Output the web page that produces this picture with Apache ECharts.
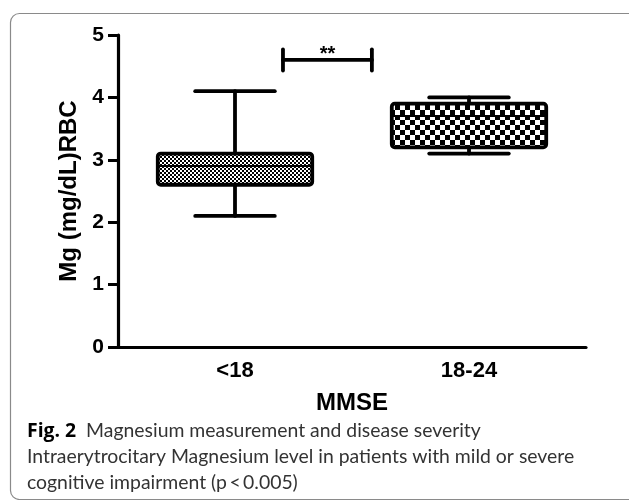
<!DOCTYPE html>
<html>
<head>
<meta charset="utf-8">
<script src="https://cdn.jsdelivr.net/npm/echarts@6/dist/echarts.min.js"></script>
<style>
  html, body { margin: 0; padding: 0; background: #fff; }
  #main { width: 629px; height: 500px; }
</style>
</head>
<body>
<div id="main"></div>
<script>
  // data
  var categories = ['<18', '18-24'];
  var lowVals = [2.1, 3.1];
  var q1Vals = [2.6, 3.2];
  var medVals = [2.9, 3.7];
  var q3Vals = [3.1, 3.9];
  var highVals = [4.1, 4.0];
  var checkSizes = [2, 5];          // checker square size of each box fill

  // significance bracket, in category units from the first category
  var bracketSpan = [0.205, 0.585];
  var bracketValue = 4.6;
  var bracketCap = 0.17;
  var bracketText = '**';

  var captionBold = 'Fig. 2';
  var captionLines = [
    'Magnesium measurement and disease severity',
    'Intraerytrocitary Magnesium level in patients with mild or severe',
    'cognitive impairment (p\u2009<\u20090.005)'
  ];

  function checker(size) {
    var c = document.createElement('canvas');
    c.width = size * 2;
    c.height = size * 2;
    var ctx = c.getContext('2d');
    ctx.fillStyle = '#fff';
    ctx.fillRect(0, 0, c.width, c.height);
    ctx.fillStyle = '#000';
    ctx.fillRect(0, 0, size, size);
    ctx.fillRect(size, size, size, size);
    return c;
  }
  var patterns = checkSizes.map(function (s) {
    return { image: checker(s), repeat: 'repeat' };
  });

  var boxData = categories.map(function (c, i) {
    return [i, lowVals[i], q1Vals[i], medVals[i], q3Vals[i], highVals[i]];
  });

  var axisFont = '"Liberation Sans", Arial, sans-serif';
  var lw = 3.8;

  function renderBox(params, api) {
    var i = api.value(0);
    var bw = api.size([1, 0])[0];
    var pLow = api.coord([i, api.value(1)]);
    var pQ1 = api.coord([i, api.value(2)]);
    var pMed = api.coord([i, api.value(3)]);
    var pQ3 = api.coord([i, api.value(4)]);
    var pHigh = api.coord([i, api.value(5)]);
    var cx = pLow[0];
    var half = bw * 0.33;
    var capHalf = bw * 0.17;
    var st = { stroke: '#000', lineWidth: lw, lineCap: 'round' };
    return {
      type: 'group',
      children: [
        { type: 'line', shape: { x1: cx, y1: pHigh[1], x2: cx, y2: pQ3[1] }, style: st },
        { type: 'line', shape: { x1: cx, y1: pQ1[1], x2: cx, y2: pLow[1] }, style: st },
        { type: 'line', shape: { x1: cx - capHalf, y1: pHigh[1], x2: cx + capHalf, y2: pHigh[1] }, style: st },
        { type: 'line', shape: { x1: cx - capHalf, y1: pLow[1], x2: cx + capHalf, y2: pLow[1] }, style: st },
        {
          type: 'rect',
          shape: { x: cx - half, y: pQ3[1], width: half * 2, height: pQ1[1] - pQ3[1], r: 3 },
          style: { fill: patterns[i], stroke: '#000', lineWidth: lw }
        },
        { type: 'line', shape: { x1: cx - half, y1: pMed[1], x2: cx + half, y2: pMed[1] }, style: { stroke: '#000', lineWidth: 2 } }
      ]
    };
  }

  var myChart = echarts.init(document.getElementById('main'));
  var option = {
    animation: false,
    grid: { left: 118, right: 43, top: 35, bottom: 153 },
    xAxis: {
      type: 'category',
      data: categories,
      name: 'MMSE',
      nameLocation: 'middle',
      nameGap: 44,
      nameTextStyle: { color: '#000', fontSize: 24, fontWeight: 'bold', fontFamily: axisFont },
      axisLine: { lineStyle: { color: '#000', width: 3.2 } },
      axisTick: { alignWithLabel: true, length: 9, lineStyle: { color: '#000', width: 3 } },
      axisLabel: { color: '#000', fontSize: 22, fontWeight: 'bold', fontFamily: axisFont, margin: 13 },
      splitLine: { show: false }
    },
    yAxis: {
      type: 'value',
      min: 0,
      max: 5,
      interval: 1,
      name: 'Mg (mg/dL)RBC',
      nameLocation: 'middle',
      nameGap: 29,
      nameTextStyle: { color: '#000', fontSize: 24, fontWeight: 'bold', fontFamily: axisFont },
      axisLine: { show: true, lineStyle: { color: '#000', width: 3.2 } },
      axisTick: { show: true, length: 10, lineStyle: { color: '#000', width: 3 } },
      axisLabel: { color: '#000', fontSize: 21, fontWeight: 'bold', fontFamily: axisFont, margin: 14 },
      splitLine: { show: false }
    },
    series: [
      {
        type: 'custom',
        silent: true,
        data: boxData,
        encode: { x: 0, y: [1, 2, 3, 4, 5] },
        renderItem: renderBox
      },
      {
        type: 'custom',
        silent: true,
        data: [[0, bracketValue]],
        renderItem: function (params, api) {
          var c0 = api.coord([0, bracketValue]);
          var bw = api.size([1, 0])[0];
          var h = api.size([0, bracketCap])[1];
          var x1 = c0[0] + bracketSpan[0] * bw;
          var x2 = c0[0] + bracketSpan[1] * bw;
          var y = c0[1];
          var st = { stroke: '#000', lineWidth: lw, lineCap: 'round' };
          return {
            type: 'group',
            children: [
              { type: 'line', shape: { x1: x1, y1: y, x2: x2, y2: y }, style: st },
              { type: 'line', shape: { x1: x1, y1: y - h, x2: x1, y2: y + h }, style: st },
              { type: 'line', shape: { x1: x2, y1: y - h, x2: x2, y2: y + h }, style: st },
              {
                type: 'text',
                style: {
                  text: bracketText, x: (x1 + x2) / 2, y: y - 5,
                  align: 'center', verticalAlign: 'middle',
                  fill: '#000', font: 'bold 20px ' + axisFont
                }
              }
            ]
          };
        }
      }
    ],
    graphic: [
      {
        type: 'rect',
        shape: { x: 10.5, y: 13.5, width: 640, height: 486, r: 9 },
        style: { fill: 'none', stroke: '#8a8a8a', lineWidth: 1.2 },
        silent: true
      },
      {
        type: 'text',
        left: 27,
        top: 418,
        style: {
          text: '{b|' + captionBold + '}  ' + captionLines[0] + '\n' + captionLines[1] + '\n' + captionLines[2],
          font: '19.4px Lato, sans-serif',
          fill: '#333',
          lineHeight: 26,
          rich: {
            b: { font: 'bold 19.4px "Open Sans", sans-serif', fill: '#000', lineHeight: 26 }
          }
        }
      }
    ]
  };
  myChart.setOption(option);
</script>
</body>
</html>
